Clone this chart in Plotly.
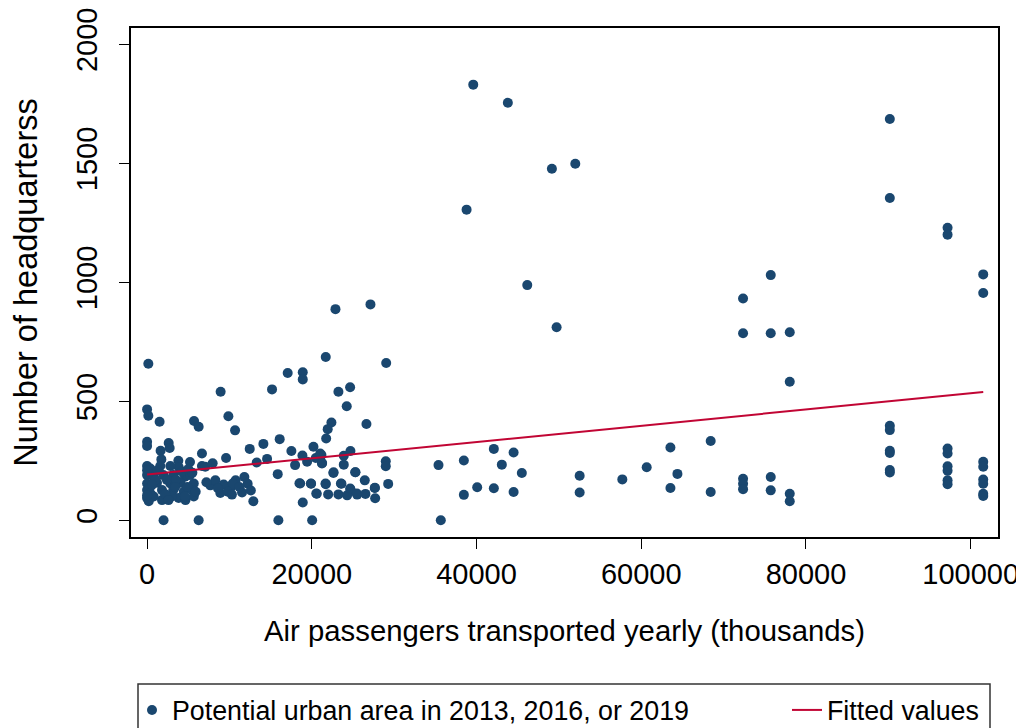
import plotly.graph_objects as go

# Air passengers (thousands) and number of headquarters
passengers = [
    150, 0, 150, 1520, 5700, 6260, 0, 0, 2620, 2740, 1640, 1730, 6660, 3790, 3830,
    0, 390, 1600, 2820, 6660, 7060, 5210, 0, 790, 1970, 3180, 4600, 5210, 0, 390,
    1200, 2820, 4050, 5670, 0, 390, 1810, 3180, 4450, 5470, 0, 200, 1810, 3830, 4660,
    5670, 2000, 6260, 1000, 2400, 3500, 4900, 5900, 3000, 2200, 4200, 5000, 1300, 600,
    3400, 4600, 2600, 800, 0, 0, 5500,
    8930, 9870, 10680, 7960, 9590, 12460, 14120, 13310, 14570, 11810, 12210, 11530,
    10750, 10110, 8890, 7680, 8290, 12900, 9300, 10400, 11200, 9800, 8600, 12600, 7200,
    10300,
    15170, 17070, 18900, 18900, 21690, 29030, 23230, 24650, 24240, 26630, 22380, 21930,
    21740, 16100, 17520, 20200, 18860, 17970, 19430, 20480, 21170, 21250, 23880, 23880,
    24690, 22620, 25300, 28980, 28980, 29270, 26430, 27640, 27690, 18500, 19910, 21690,
    21980, 20600, 23230, 23600, 24690, 24290, 25500, 26510, 18900, 15860, 15940, 20040,
    22870, 27120, 18590, 19890, 20540, 21670, 22640, 23530, 25270, 24660, 27660, 21230,
    21020, 25470,
    35380, 35660, 38460, 38460, 38790, 39600, 40080, 42100, 42100, 43800, 43070, 44500,
    44500, 45500, 46160, 49150, 49720, 51990, 52520, 52520, 57700, 60660, 63540, 64390,
    63540, 68430, 68430,
    72360, 72360, 72360, 72360, 72360, 75720, 75720, 75720, 75720, 78030, 78030, 78030,
    78030,
    90180, 90180, 90180, 90180, 90180, 90180, 90180, 90180,
    97190, 97190, 97190, 97190, 97190, 97190, 97190, 97190,
    101520, 101520, 101520, 101520, 101520, 101520, 101520, 101520,
]
headquarters = [
    658, 466, 439, 414, 417, 393, 330, 312, 325, 304, 292, 256, 281, 250, 224,
    228, 218, 228, 228, 228, 225, 245, 190, 183, 190, 190, 183, 190, 155, 141,
    158, 155, 158, 155, 127, 114, 127, 127, 120, 127, 94, 80, 85, 94, 85,
    100, 0, 0, 170, 170, 170, 140, 120, 100, 110, 205, 215, 210, 150,
    140, 100, 85, 100, 210, 105, 200,
    540, 437, 378, 240, 262, 300, 321, 243, 258, 182, 154, 117,
    168, 136, 115, 147, 168, 80, 150, 155, 140, 120, 135, 125, 160,
    108,
    550, 619, 622, 592, 686, 661, 540, 559, 479, 405, 411, 383,
    344, 341, 291, 309, 272, 232, 246, 262, 274, 241, 271, 234,
    291, 199, 202, 248, 227, 153, 168, 136, 93, 156, 154, 152,
    109, 112, 109, 154, 129, 105, 108, 111, 75, 194, 0, 0,
    887, 907, 155, 155, 113, 155, 202, 155, 202, 134, 137, 239,
    281, 113,
    232, 0, 251, 107, 1305, 1830, 139, 300, 135, 1754, 234, 285,
    119, 199, 988, 1477, 811, 1498, 187, 117, 172, 223, 306, 195,
    136, 333, 119,
    932, 786, 175, 154, 131, 1030, 786, 182, 126, 790, 582, 112,
    80,
    1686, 1354, 397, 379, 292, 283, 211, 201,
    1229, 1200, 302, 281, 227, 208, 168, 152,
    1033, 955, 246, 225, 171, 154, 112, 102,
]

# Fitted values line (end points)
fit_x = [0, 101520]
fit_y = [192, 539]

x_ticks = [0, 20000, 40000, 60000, 80000, 100000]
y_ticks = [0, 500, 1000, 1500, 2000]

NAVY = "#1a476f"
RED = "#c10534"
FONT = "Liberation Sans, Arial, Helvetica, sans-serif"

fig = go.Figure()
fig.add_trace(go.Scatter(
    x=passengers, y=headquarters, mode="markers",
    name="Potential urban area in 2013, 2016, or 2019",
    marker=dict(color=NAVY, size=10, line=dict(width=0)),
    legend="legend",
))
fig.add_trace(go.Scatter(
    x=fit_x, y=fit_y, mode="lines", name="Fitted values",
    line=dict(color=RED, width=2),
    legend="legend2",
))

axis_common = dict(
    showgrid=False, zeroline=False, showline=True, linecolor="black",
    linewidth=1.5, mirror=True, ticks="outside", ticklen=10, tickwidth=1.2,
    tickcolor="black", tickfont=dict(family=FONT, size=29, color="black"),
    automargin=False, ticklabeloverflow="allow",
)

# The page body adds an 8px offset; figure is sized so the plot lands where intended
W, H = 1016, 720
L, R, T, B = 123, 26, 20, 191
PW = W - L - R
PH = H - T - B

legend_common = dict(
    orientation="h", yanchor="middle", y=(529 - 702) / PH,
    font=dict(family=FONT, size=26.8, color="black"),
    bgcolor="rgba(0,0,0,0)", borderwidth=0, xanchor="left",
)

fig.update_layout(
    width=W, height=H,
    paper_bgcolor="white", plot_bgcolor="white",
    margin=dict(l=L, r=R, t=T, b=B, autoexpand=False),
    font=dict(family=FONT, color="black"),
    xaxis=dict(
        range=[-1954, 103313], tickvals=x_ticks,
        ticktext=[str(v) for v in x_ticks],
        title=dict(text="Air passengers transported yearly (thousands)",
                   font=dict(family=FONT, size=29.3, color="black"), standoff=32),
        **axis_common,
    ),
    yaxis=dict(
        range=[-70, 2068], tickvals=y_ticks,
        ticktext=[str(v) for v in y_ticks], tickangle=-90,
        ticklabelstandoff=11,
        title=dict(text="Number of headquarterss",
                   font=dict(family=FONT, size=32.5, color="black"), standoff=24),
        **axis_common,
    ),
    showlegend=True,
    legend=dict(x=1 / PW, **legend_common),
    legend2=dict(x=(787 - 131) / PW, **legend_common),
    shapes=[dict(
        type="rect", xref="paper", yref="paper",
        x0=(138 - 131) / PW, x1=(990 - 131) / PW,
        y0=(537 - 684) / PH, y1=(537 - 760) / PH,
        line=dict(color="#333333", width=1.5), fillcolor="rgba(0,0,0,0)",
        layer="below",
    )],
)

fig.write_html("out.html")
